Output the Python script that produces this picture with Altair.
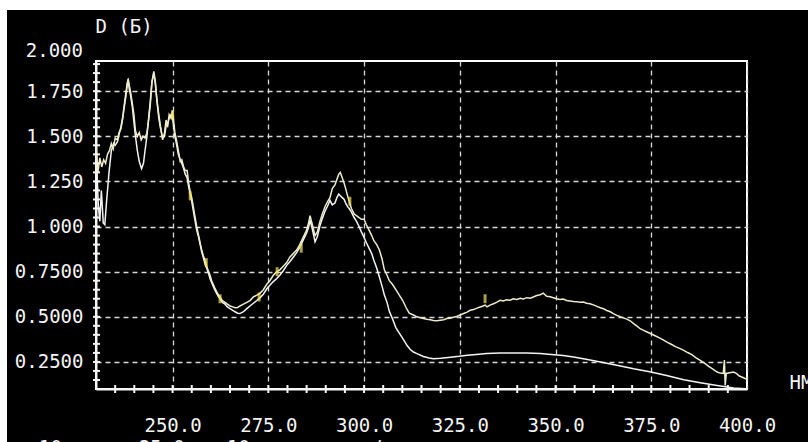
import altair as alt
import pandas as pd

# ---------------- data ----------------
A_NM = [230.0, 230.5, 231.0, 231.5, 232.0, 232.5, 233.0, 233.5, 234.0, 234.5, 235.0, 235.6, 236.0, 236.5,
        237.0, 237.3, 237.8, 238.2, 238.4, 238.7, 239.0, 239.5, 239.9, 240.3, 240.8, 241.3, 241.8, 242.3,
        242.8, 243.3, 243.8, 244.2, 244.6, 245.1, 245.5, 245.9, 246.4, 246.8, 247.4, 247.9, 248.3, 248.7,
        249.1, 249.6, 250.0, 250.6, 251.0, 251.5, 252.0, 252.4, 252.9, 253.3, 253.8, 254.2, 254.6, 255.0,
        255.4, 255.8, 256.3, 256.8, 257.2, 257.6, 258.0, 258.5, 258.9, 259.4, 259.8, 260.2, 260.6, 261.0,
        261.5, 262.0, 262.4, 263.0, 263.7, 264.3, 265.0, 265.7, 266.3, 267.0, 267.6, 268.5, 269.4, 270.2,
        271.1, 272.0, 272.8, 273.7, 274.6, 275.4, 276.3, 277.2, 278.0, 278.9, 279.8, 280.6, 281.5, 282.4,
        283.2, 284.1, 285.0, 285.5, 285.9, 286.5, 287.2, 287.8, 288.5, 289.1, 289.8, 290.5, 291.1, 291.7,
        292.4, 292.9, 293.4, 293.8, 294.3, 294.8, 295.2, 295.7, 296.1, 296.7, 297.4, 298.0, 298.7, 299.3,
        300.0, 300.6, 301.3, 302.0, 302.6, 303.3, 304.0, 304.7, 305.3, 306.0, 306.6, 307.4, 308.3, 309.2,
        310.1, 311.0, 311.8, 312.9, 313.8, 314.7, 315.5, 316.4, 317.3, 318.1, 319.0, 319.9, 320.8, 321.6,
        322.5, 323.4, 324.3, 325.1, 326.0, 326.9, 327.7, 328.6, 329.5, 330.3, 331.1, 331.6, 332.1, 332.9,
        333.8, 334.6, 335.5, 336.4, 337.2, 338.1, 339.0, 339.9, 340.8, 341.6, 342.5, 343.4, 344.2, 345.1,
        346.0, 346.8, 347.7, 348.6, 349.4, 350.3, 351.2, 352.0, 352.9, 353.8, 354.7, 355.5, 356.4, 357.3,
        358.1, 359.0, 359.9, 360.8, 361.7, 362.5, 363.4, 364.3, 365.1, 366.0, 366.9, 367.7, 368.6, 369.5,
        370.4, 371.2, 372.1, 373.0, 373.9, 374.9, 376.0, 377.0, 378.1, 379.1, 380.2, 381.3, 382.4, 383.5,
        384.5, 385.6, 386.7, 387.8, 388.9, 390.0, 391.1, 392.2, 393.0, 393.8, 394.1, 394.3, 394.6, 395.5,
        396.5, 397.3, 398.0, 398.8, 399.6, 400.0]
A_D = [1.45, 1.30, 1.38, 1.33, 1.37, 1.35, 1.40, 1.42, 1.46, 1.43, 1.49, 1.48, 1.52, 1.54,
       1.60, 1.65, 1.72, 1.79, 1.82, 1.78, 1.75, 1.68, 1.62, 1.53, 1.50, 1.52, 1.48, 1.50,
       1.49, 1.52, 1.60, 1.68, 1.80, 1.86, 1.80, 1.70, 1.62, 1.56, 1.48, 1.52, 1.59, 1.55,
       1.62, 1.60, 1.64, 1.52, 1.48, 1.42, 1.36, 1.37, 1.33, 1.31, 1.31, 1.24, 1.19, 1.16,
       1.11, 1.06, 1.00, 0.95, 0.91, 0.87, 0.84, 0.81, 0.78, 0.75, 0.73, 0.70, 0.68, 0.66,
       0.64, 0.62, 0.61, 0.59, 0.58, 0.57, 0.56, 0.555, 0.55, 0.552, 0.56, 0.57, 0.58, 0.59,
       0.61, 0.62, 0.63, 0.65, 0.68, 0.70, 0.73, 0.75, 0.76, 0.78, 0.80, 0.83, 0.85, 0.87,
       0.90, 0.94, 0.98, 1.02, 1.06, 1.01, 0.95, 0.97, 1.03, 1.07, 1.11, 1.14, 1.16, 1.21,
       1.23, 1.26, 1.29, 1.30, 1.27, 1.24, 1.21, 1.17, 1.14, 1.10, 1.07, 1.06, 1.05, 1.04,
       1.04, 1.01, 0.98, 0.95, 0.92, 0.90, 0.87, 0.82, 0.76, 0.73, 0.70, 0.68, 0.65, 0.62,
       0.59, 0.55, 0.52, 0.51, 0.50, 0.495, 0.49, 0.486, 0.483, 0.48, 0.478, 0.481, 0.484, 0.49,
       0.492, 0.498, 0.503, 0.51, 0.518, 0.526, 0.536, 0.54, 0.548, 0.554, 0.56, 0.565, 0.555, 0.565,
       0.572, 0.58, 0.591, 0.588, 0.594, 0.592, 0.600, 0.596, 0.602, 0.599, 0.606, 0.603, 0.61, 0.618,
       0.622, 0.631, 0.614, 0.611, 0.606, 0.60, 0.596, 0.598, 0.590, 0.588, 0.585, 0.584, 0.580, 0.582,
       0.575, 0.572, 0.566, 0.558, 0.550, 0.545, 0.535, 0.528, 0.518, 0.508, 0.500, 0.494, 0.487, 0.478,
       0.462, 0.45, 0.434, 0.425, 0.416, 0.406, 0.395, 0.385, 0.372, 0.36, 0.348, 0.335, 0.325, 0.314,
       0.302, 0.29, 0.273, 0.259, 0.243, 0.225, 0.21, 0.194, 0.188, 0.186, 0.26, 0.12, 0.186, 0.19,
       0.194, 0.185, 0.172, 0.165, 0.157, 0.155]

B_NM = [230.0, 230.6, 231.0, 231.4, 231.9, 232.3, 232.8, 233.4, 234.0, 234.6, 235.0, 235.6, 236.0, 236.5,
        237.0, 237.3, 237.8, 238.2, 238.4, 238.7, 239.0, 239.5, 239.9, 240.3, 240.8, 241.3, 241.9, 242.4,
        242.8, 243.3, 243.7, 244.2, 244.6, 245.1, 245.5, 245.9, 246.4, 246.8, 247.4, 247.9, 248.3, 248.7,
        249.1, 249.6, 250.0, 250.6, 251.0, 251.5, 252.0, 252.4, 252.9, 253.3, 253.8, 254.2, 254.6, 255.0,
        255.4, 255.8, 256.3, 256.8, 257.2, 257.6, 258.0, 258.5, 258.9, 259.4, 259.8, 260.2, 260.6, 261.0,
        261.5, 262.0, 262.4, 263.0, 263.7, 264.3, 265.0, 265.7, 266.3, 267.0, 267.6, 268.5, 269.4, 270.2,
        271.1, 272.0, 272.8, 273.7, 274.6, 275.4, 276.3, 277.2, 278.0, 278.9, 279.8, 280.6, 281.5, 282.4,
        283.2, 284.1, 285.0, 285.5, 285.9, 286.5, 287.2, 287.8, 288.5, 289.1, 289.8, 290.5, 291.1, 291.7,
        292.4, 292.9, 293.4, 293.8, 294.3, 294.8, 295.2, 295.7, 296.1, 296.7, 297.4, 298.0, 298.7, 299.3,
        300.0, 300.6, 301.3, 302.0, 302.6, 303.3, 304.0, 304.7, 305.3, 306.0, 306.6, 307.4, 308.3, 309.2,
        310.1, 311.2, 312.0, 312.9, 313.8, 315.5, 317.0, 318.1, 320.0, 322.0, 324.8, 327.0, 330.0, 332.0,
        335.5, 339.0, 342.5, 346.0, 349.6, 352.0, 354.7, 358.0, 361.7, 366.0, 370.4, 374.9, 379.0, 383.5,
        387.8, 392.2, 396.5, 399.6, 400.0]
B_D = [1.44, 1.12, 1.03, 1.20, 1.02, 1.01, 1.15, 1.30, 1.42, 1.46, 1.45, 1.47, 1.51, 1.55,
       1.61, 1.66, 1.74, 1.80, 1.81, 1.76, 1.73, 1.66, 1.58, 1.50, 1.42, 1.36, 1.32, 1.35,
       1.42, 1.50, 1.59, 1.70, 1.80, 1.85, 1.79, 1.70, 1.60, 1.55, 1.49, 1.50, 1.56, 1.57,
       1.60, 1.62, 1.60, 1.50, 1.46, 1.40, 1.37, 1.35, 1.32, 1.29, 1.27, 1.22, 1.18, 1.14,
       1.09, 1.04, 0.98, 0.94, 0.90, 0.86, 0.83, 0.79, 0.77, 0.74, 0.71, 0.69, 0.67, 0.65,
       0.63, 0.61, 0.60, 0.58, 0.57, 0.555, 0.545, 0.535, 0.528, 0.52, 0.518, 0.528, 0.545, 0.56,
       0.575, 0.59, 0.605, 0.625, 0.655, 0.675, 0.695, 0.712, 0.73, 0.755, 0.785, 0.805, 0.83, 0.855,
       0.885, 0.925, 0.965, 0.995, 1.035, 0.985, 0.915, 0.945, 1.005, 1.045, 1.085, 1.115, 1.145, 1.12,
       1.13, 1.16, 1.18, 1.17, 1.16, 1.15, 1.13, 1.11, 1.10, 1.08, 1.05, 1.03, 1.00, 0.97,
       0.94, 0.91, 0.88, 0.85, 0.81, 0.77, 0.72, 0.67, 0.62, 0.58, 0.53, 0.49, 0.44, 0.41,
       0.38, 0.342, 0.32, 0.305, 0.296, 0.28, 0.272, 0.268, 0.27, 0.275, 0.281, 0.287, 0.293, 0.296,
       0.299, 0.30, 0.299, 0.296, 0.29, 0.285, 0.277, 0.265, 0.249, 0.232, 0.212, 0.194, 0.175, 0.151,
       0.135, 0.12, 0.105, 0.101, 0.1]

SPOT_NM = [250.0, 254.6, 258.8, 262.4, 272.6, 277.3, 283.6, 296.3, 331.6]
SPOT_D = [1.62, 1.17, 0.80, 0.60, 0.61, 0.75, 0.88, 1.14, 0.60]

X_LABELS = [250, 275, 300, 325, 350, 375, 400]
Y_LABELS = [0.25, 0.5, 0.75, 1.0, 1.25, 1.5, 1.75]
X_TICKS = [235 + 5 * i for i in range(33)]
Y_TICKS = [round(0.15 + 0.05 * i, 2) for i in range(36)]
TOP_LABEL = ["2.000"]
Y_TITLE = "D (Б)"
X_TITLE = "НМ"
BOTTOM_TEXT = ["10", "25.0", "10", "/"]
BOTTOM_NM = [215.1, 241.2, 264.2, 301.8]

# ---------------- styling ----------------
FONT = "DejaVu Sans Mono"
FS = 19
W, H = 651, 328
WHITE = "#f4f4f4"
GRID = "#d8d8d8"

xs = alt.Scale(domain=[230, 400], nice=False, zero=False)
ys = alt.Scale(domain=[0.1, 1.917], nice=False, zero=False)

df_a = pd.DataFrame({"nm": A_NM, "d": A_D})
df_b = pd.DataFrame({"nm": B_NM, "d": B_D})
df_s = pd.DataFrame({"nm": SPOT_NM, "d": SPOT_D})
df_xt = pd.DataFrame({"nm": X_TICKS})
df_yt = pd.DataFrame({"d": Y_TICKS})
df_top = pd.DataFrame({"t": TOP_LABEL})
df_bot = pd.DataFrame({"nm": BOTTOM_NM, "t": BOTTOM_TEXT})
one = pd.DataFrame({"k": [0]})

x_axis = alt.Axis(values=X_LABELS, format=".1f", grid=True, gridDash=[5, 4], gridColor=GRID,
                  gridWidth=1.3, ticks=False, tickSize=0, labelPadding=36, labelBaseline="middle",
                  labelColor=WHITE, labelFont=FONT, labelFontSize=FS, domainColor=WHITE,
                  domainWidth=2, labelFlush=False, labelOverlap=False,
                  title=X_TITLE, titleX=693, titleY=-7, titleAlign="left", titleBaseline="middle",
                  titleColor=WHITE, titleFont=FONT, titleFontSize=FS, titleFontWeight="normal")
y_axis = alt.Axis(values=Y_LABELS,
                  labelExpr="datum.value >= 1 ? format(datum.value, '.3f') : format(datum.value, '.4f')",
                  grid=True, gridDash=[5, 4], gridColor=GRID, gridWidth=1.3, ticks=False, tickSize=0,
                  labelPadding=13, labelColor=WHITE, labelFont=FONT, labelFontSize=FS,
                  domainColor=WHITE, domainWidth=2, labelFlush=False, labelOverlap=False,
                  title=Y_TITLE, titleAngle=0, titleX=-1, titleY=-35, titleAlign="left",
                  titleBaseline="middle", titleColor=WHITE, titleFont=FONT, titleFontSize=FS,
                  titleFontWeight="normal")

# white margins of the screenshot (top and left strips)
margin_top = alt.Chart(one).mark_rect(color="white").encode(
    x=alt.value(-96), x2=alt.value(W + 61), y=alt.value(-61), y2=alt.value(-51))
margin_left = alt.Chart(one).mark_rect(color="white").encode(
    x=alt.value(-96), x2=alt.value(-89), y=alt.value(-61), y2=alt.value(H + 53))

line_b = alt.Chart(df_b).mark_line(color=WHITE, strokeWidth=1.5).encode(
    x=alt.X("nm:Q", scale=xs, axis=x_axis),
    y=alt.Y("d:Q", scale=ys, axis=y_axis))
line_a = alt.Chart(df_a).mark_line(color="#eeecc8", strokeWidth=1.5).encode(
    x=alt.X("nm:Q", scale=xs), y=alt.Y("d:Q", scale=ys))
spots = alt.Chart(df_s).mark_tick(color="#f3e35c", orient="vertical", size=9, thickness=3).encode(
    x=alt.X("nm:Q", scale=xs), y=alt.Y("d:Q", scale=ys))

xticks = alt.Chart(df_xt).mark_rule(color=WHITE, strokeWidth=2).encode(
    x=alt.X("nm:Q", scale=xs), y=alt.value(H - 4), y2=alt.value(H + 4))
yticks = alt.Chart(df_yt).mark_rule(color=WHITE, strokeWidth=2).encode(
    y=alt.Y("d:Q", scale=ys), x=alt.value(-3), x2=alt.value(4))

top_label = alt.Chart(df_top).mark_text(color=WHITE, font=FONT, fontSize=FS, align="right",
                                        baseline="middle").encode(
    text="t:N", x=alt.value(-13), y=alt.value(-10))
bottom = alt.Chart(df_bot).mark_text(color=WHITE, font=FONT, fontSize=FS, align="left",
                                     baseline="top").encode(
    text="t:N", x=alt.X("nm:Q", scale=xs), y=alt.value(H + 50))

chart = alt.layer(margin_top, margin_left, line_b, line_a, spots, xticks, yticks,
                  top_label, bottom).properties(
    width=W, height=H, background="black",
    padding={"left": 96, "top": 61, "right": 61, "bottom": 53},
    autosize=alt.AutoSizeParams(type="none"),
).configure_view(stroke="white", strokeWidth=2)

chart.save("out.html", embed_options={"renderer": "svg", "actions": False})
